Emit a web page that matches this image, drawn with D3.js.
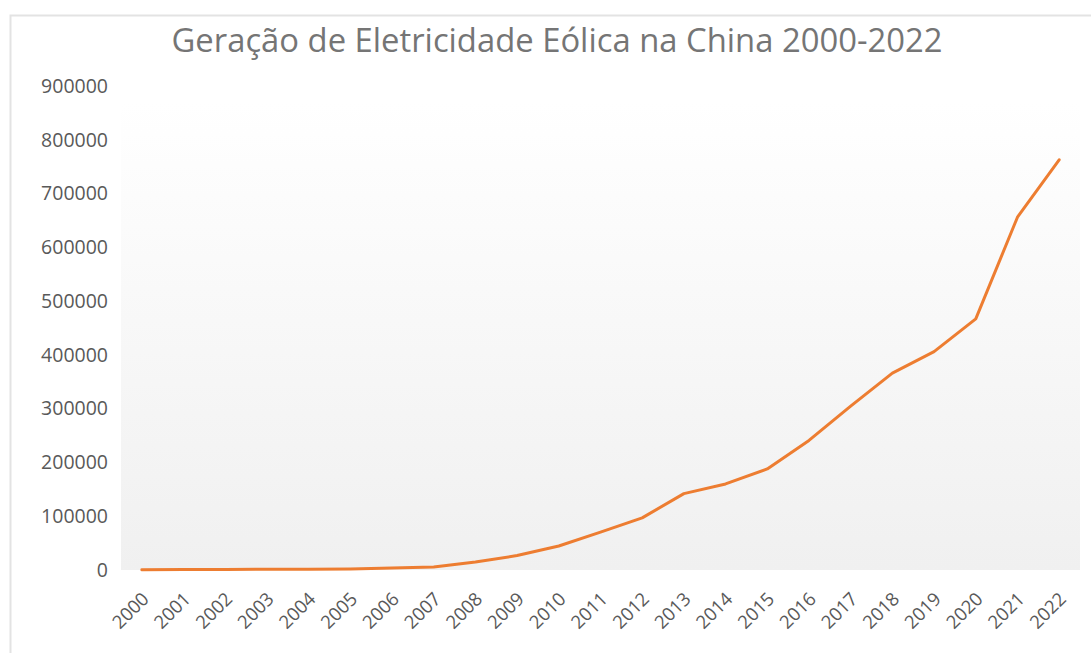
<!DOCTYPE html>
<html>
<head>
<meta charset="utf-8">
<script src="https://cdn.jsdelivr.net/npm/d3@7"></script>
<style>
  body { margin: 0; background: #fff; }
  svg { display: block; font-family: "Open Sans", "DejaVu Sans", sans-serif; }
</style>
</head>
<body>
<div id="chart"></div>
<script>
// Chart data
const years = ['2000', '2001', '2002', '2003', '2004', '2005', '2006', '2007', '2008', '2009', '2010', '2011',
    '2012', '2013', '2014', '2015', '2016', '2017', '2018', '2019', '2020', '2021', '2022'];
const generation = [600, 700, 900, 1300, 1300, 2000, 3700, 5700, 14800, 26900, 44600, 70300,
    97000, 142000, 160000, 188000, 240900, 304600, 366000, 406000, 467000, 656000, 762700];
const yTicks = [0, 100000, 200000, 300000, 400000, 500000, 600000, 700000, 800000, 900000];
const title = 'Geração de Eletricidade Eólica na China 2000-2022';

const width = 1091;
const height = 653;
const plot = { left: 121, right: 1080, top: 86, bottom: 570 };
const fontFamily = '"Open Sans", "DejaVu Sans", sans-serif';

const svg = d3.select('#chart')
    .append('svg')
    .attr('width', width)
    .attr('height', height);

// Gradient for plot area
const grad = svg.append('defs').append('linearGradient')
    .attr('id', 'plotBg')
    .attr('x1', 0).attr('y1', 0).attr('x2', 0).attr('y2', 1);
grad.append('stop').attr('offset', '0%').attr('stop-color', '#ffffff');
grad.append('stop').attr('offset', '100%').attr('stop-color', '#f0f0f0');

// Chart border
svg.append('rect')
    .attr('x', 10.5)
    .attr('y', 15.5)
    .attr('width', 1200)
    .attr('height', 1000)
    .attr('fill', 'none')
    .attr('stroke', '#e3e3e3')
    .attr('stroke-width', 2);

// Scales
const x = d3.scaleBand()
    .domain(years)
    .range([plot.left, plot.right]);

const y = d3.scaleLinear()
    .domain([0, 900000])
    .range([plot.bottom, plot.top]);

// Plot area
svg.append('rect')
    .attr('x', plot.left)
    .attr('y', y(870000))
    .attr('width', plot.right - plot.left)
    .attr('height', plot.bottom - y(870000))
    .attr('fill', 'url(#plotBg)');

// Y axis labels
const yAxis = d3.axisLeft(y)
    .tickValues(yTicks)
    .tickSize(0)
    .tickPadding(0)
    .tickFormat(d3.format('d'));

svg.append('g')
    .attr('transform', `translate(108,0)`)
    .call(yAxis)
    .call(g => g.select('.domain').remove())
    .selectAll('text')
    .attr('fill', '#595959')
    .attr('font-family', fontFamily)
    .attr('font-size', '19.5px');

// X axis labels
const xAxis = d3.axisBottom(x)
    .tickSize(0)
    .tickPadding(0);

svg.append('g')
    .attr('transform', `translate(0,${plot.bottom})`)
    .call(xAxis)
    .call(g => g.select('.domain').remove())
    .selectAll('text')
    .attr('fill', '#595959')
    .attr('font-family', fontFamily)
    .attr('font-size', '18.5px')
    .attr('text-anchor', 'end')
    .attr('dy', '0.7em')
    .attr('transform', 'translate(-1,21) rotate(-45)');

// Line
const line = d3.line()
    .x((d, i) => x(years[i]) + x.bandwidth() / 2)
    .y(d => y(d));

svg.append('path')
    .datum(generation)
    .attr('fill', 'none')
    .attr('stroke', '#ed7d31')
    .attr('stroke-width', 3)
    .attr('stroke-linejoin', 'round')
    .attr('stroke-linecap', 'round')
    .attr('d', line);

// Title, narrowed to the reference width
svg.append('text')
    .attr('x', 557)
    .attr('y', 52)
    .attr('text-anchor', 'middle')
    .attr('fill', '#757575')
    .attr('font-size', '33px')
    .attr('textLength', 771)
    .attr('lengthAdjust', 'spacingAndGlyphs')
    .text(title);
</script>
</body>
</html>
